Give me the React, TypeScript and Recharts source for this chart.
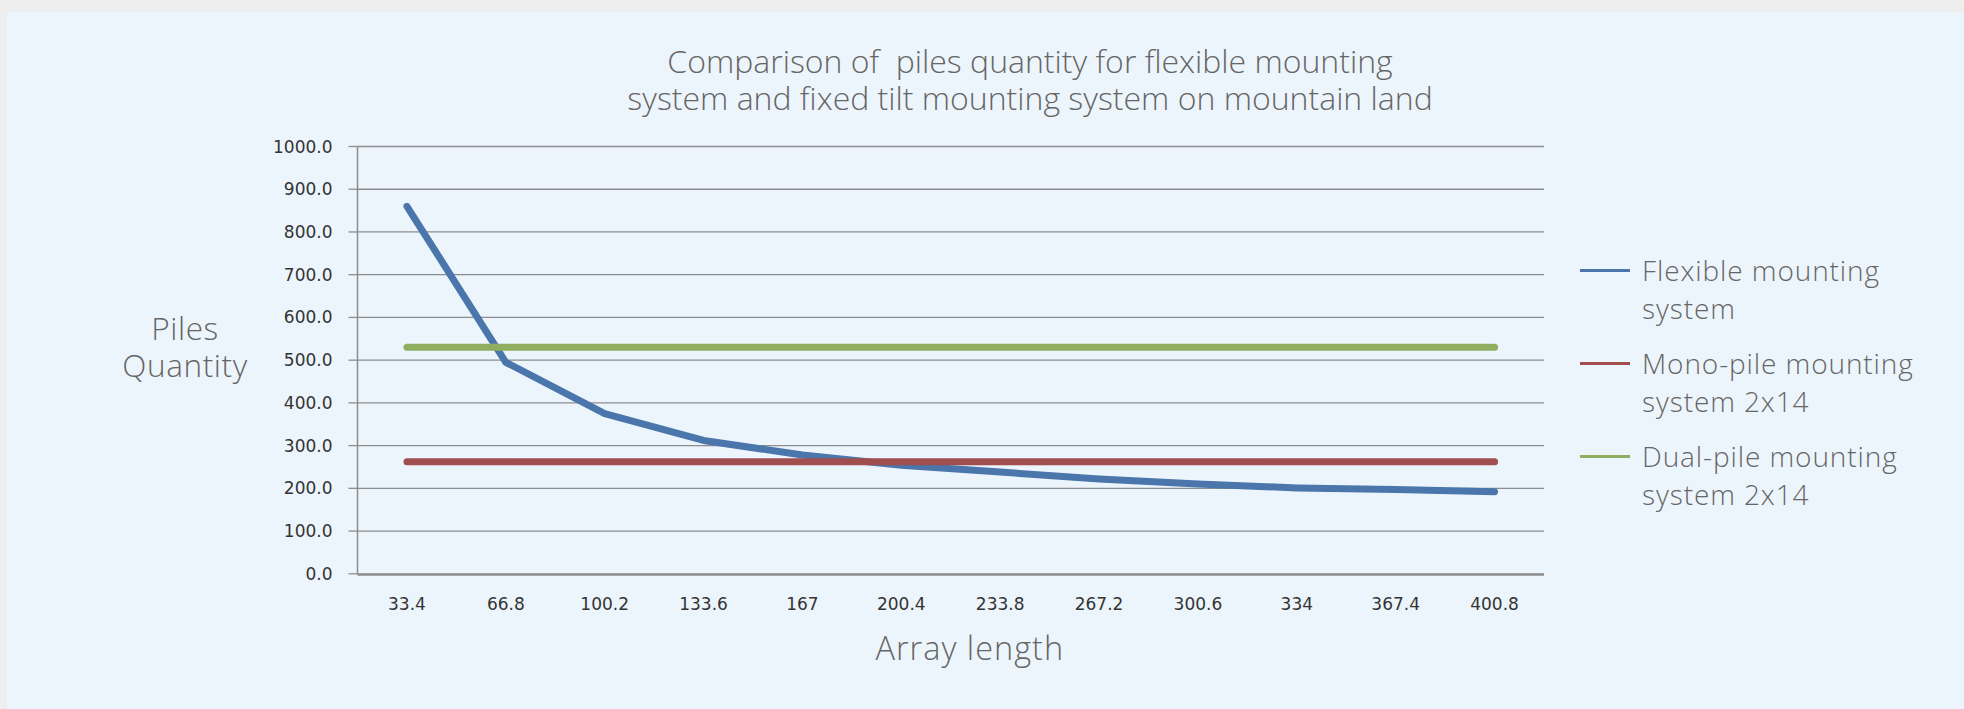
import React from "react";
import { CartesianGrid, Legend, Line, LineChart, XAxis, YAxis } from "recharts";

const lengths = ["33.4", "66.8", "100.2", "133.6", "167", "200.4", "233.8", "267.2", "300.6", "334", "367.4", "400.8"];
const flexible = [860, 495, 375, 312, 278, 254, 238, 222, 210, 201, 197, 192];
const monoPile = [262, 262, 262, 262, 262, 262, 262, 262, 262, 262, 262, 262];
const dualPile = [530, 530, 530, 530, 530, 530, 530, 530, 530, 530, 530, 530];
const yTicks = [0, 100, 200, 300, 400, 500, 600, 700, 800, 900, 1000];

const seriesNames = ["Flexible mounting system", "Mono-pile mounting system 2x14", "Dual-pile mounting system 2x14"];
const seriesColors = ["#4A76AC", "#A04E4E", "#8FAE60"];

const title = "Comparison of  piles quantity for flexible mounting\nsystem and fixed tilt mounting system on mountain land";

const data = lengths.map((length, i) => ({
  length,
  flexible: flexible[i],
  mono: monoPile[i],
  dual: dualPile[i],
}));

// tick marks sit on the band edges, like the spreadsheet original
const edgeTicks = [...lengths.map((_, i) => i), lengths.length];

const labelFont = "'Open Sans', sans-serif";
const tickFont = "'DejaVu Sans', sans-serif";
const gridGray = "#8c8c8c";

function YTitle({ viewBox }: any) {
  const cx = viewBox.x - 92.5;
  const cy = viewBox.y + viewBox.height / 2;
  return (
    <text textAnchor="middle" fill="#666" fontFamily={labelFont} fontWeight={300} fontSize={31.5} letterSpacing={0.6}>
      <tspan x={cx} y={cy - 20}>Piles</tspan>
      <tspan x={cx} y={cy + 16.5}>Quantity</tspan>
    </text>
  );
}

function XTitle({ viewBox }: any) {
  return (
    <text
      x={viewBox.x + viewBox.width / 2 + 19}
      y={viewBox.y + 85.7}
      textAnchor="middle"
      fill="#666"
      fontFamily={labelFont}
      fontWeight={300}
      fontSize={32.5}
      letterSpacing={1}
    >
      Array length
    </text>
  );
}

function LegendBlock({ payload }: any) {
  return (
    <div
      style={{
        fontFamily: labelFont,
        fontWeight: 300,
        fontSize: 28,
        lineHeight: "38px",
        color: "#666",
        letterSpacing: 0.9,
      }}
    >
      {(payload || []).map((item: any) => (
        <div key={item.value} style={{ display: "flex", alignItems: "flex-start", marginBottom: 17 }}>
          <div style={{ width: 50, height: 3, background: item.color, marginTop: 18.5, marginRight: 12, flexShrink: 0 }} />
          <div style={{ width: 310 }}>{item.value}</div>
        </div>
      ))}
    </div>
  );
}

function App() {
  return (
    <div style={{ position: "absolute", left: 0, top: 0, width: 1964, height: 709, background: "#EEEEEE", overflow: "hidden" }}>
      <div style={{ position: "absolute", left: 7, top: 12, width: 1957, height: 697, background: "#EDF5FC" }}>
        <div
          style={{
            position: "absolute",
            left: 1023,
            top: 29.6,
            transform: "translateX(-50%)",
            whiteSpace: "pre",
            textAlign: "center",
            fontFamily: labelFont,
            fontWeight: 300,
            fontSize: 32,
            lineHeight: "37.3px",
            color: "#666",
            zIndex: 1,
          }}
        >
          {title}
        </div>
        <LineChart width={1957} height={697} data={data} margin={{ top: 134.5, right: 420, left: 270.5, bottom: 133.2 }}>
          <CartesianGrid horizontal vertical={false} stroke={gridGray} strokeWidth={1.3} />
          <XAxis
            dataKey="length"
            scale="band"
            interval={0}
            height={1}
            axisLine={false}
            tickLine={false}
            tickMargin={18.6}
            tick={{ fill: "#333", fontSize: 17, fontFamily: tickFont }}
            label={<XTitle />}
          />
          <XAxis
            xAxisId="edge"
            type="number"
            domain={[0, lengths.length]}
            allowDataOverflow
            ticks={edgeTicks}
            interval={0}
            tick={false}
            tickSize={8}
            height={1}
            axisLine={{ stroke: gridGray, strokeWidth: 2 }}
            tickLine={{ stroke: gridGray, strokeWidth: 1.2 }}
          />
          <YAxis
            domain={[0, 1000]}
            ticks={yTicks}
            interval={0}
            width={80}
            tickSize={9}
            tickMargin={16}
            tickFormatter={(v: number) => v.toFixed(1)}
            tick={{ fill: "#333", fontSize: 17, fontFamily: tickFont }}
            axisLine={{ stroke: gridGray, strokeWidth: 1.5 }}
            tickLine={{ stroke: gridGray, strokeWidth: 1.3 }}
            label={<YTitle />}
          />
          <Legend
            layout="vertical"
            align="center"
            verticalAlign="middle"
            itemSorter={(item: any) => seriesNames.indexOf(item.value)}
            wrapperStyle={{ left: 1573, top: 238.8, width: 380 }}
            content={<LegendBlock />}
          />
          <Line
            type="linear"
            dataKey="flexible"
            name={seriesNames[0]}
            stroke={seriesColors[0]}
            strokeWidth={7}
            strokeLinecap="round"
            strokeLinejoin="round"
            dot={false}
            activeDot={false}
            isAnimationActive={false}
          />
          <Line
            type="linear"
            dataKey="mono"
            name={seriesNames[1]}
            stroke={seriesColors[1]}
            strokeWidth={7}
            strokeLinecap="round"
            dot={false}
            activeDot={false}
            isAnimationActive={false}
          />
          <Line
            type="linear"
            dataKey="dual"
            name={seriesNames[2]}
            stroke={seriesColors[2]}
            strokeWidth={7}
            strokeLinecap="round"
            dot={false}
            activeDot={false}
            isAnimationActive={false}
          />
        </LineChart>
      </div>
    </div>
  );
}

export default App;
